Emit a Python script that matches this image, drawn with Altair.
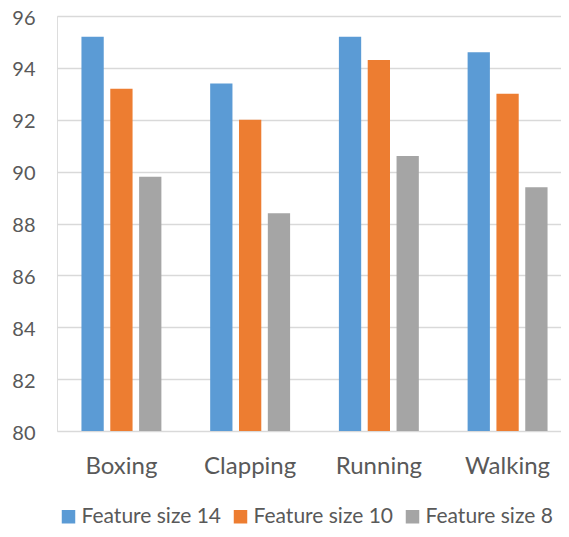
import altair as alt
import pandas as pd

categories = ["Boxing", "Clapping", "Running", "Walking"]
series_names = ["Feature size 14", "Feature size 10", "Feature size 8"]
fs14 = [95.2, 93.4, 95.2, 94.6]
fs10 = [93.2, 92.0, 94.3, 93.0]
fs8 = [89.8, 88.4, 90.6, 89.4]
y_ticks = [80, 82, 84, 86, 88, 90, 92, 94, 96]
colors = ["#5B9BD5", "#ED7D31", "#A5A5A5"]

rows = []
for name, vals in zip(series_names, [fs14, fs10, fs8]):
    for c, v in zip(categories, vals):
        rows.append({"Activity": c, "Series": name, "Value": v})
df = pd.DataFrame(rows)

FONT = "Lato"
TXT = "#595959"

chart = alt.Chart(df).mark_bar().encode(
    x=alt.X("Activity:N", sort=categories, title=None,
            scale=alt.Scale(range=[0, 515], paddingInner=0.379, paddingOuter=0.19),
            axis=alt.Axis(labelAngle=0, labelFont=FONT, labelFontSize=24, labelColor=TXT,
                          ticks=False, tickSize=0, domain=False, grid=False,
                          labelBaseline="alphabetic", labelPadding=42)),
    xOffset=alt.XOffset("Series:N", sort=series_names,
                        scale=alt.Scale(paddingInner=0.227, paddingOuter=0)),
    y=alt.Y("Value:Q", title=None,
            scale=alt.Scale(domain=[80, 96], zero=False, nice=False),
            axis=alt.Axis(values=y_ticks, labelFont=FONT, labelFontSize=20, labelColor=TXT,
                          ticks=False, tickSize=0, domain=False, grid=True,
                          gridColor="#D9D9D9", gridWidth=1.5,
                          labelBaseline="alphabetic", labelOffset=8, labelPadding=22)),
    y2=alt.datum(80),
    color=alt.Color("Series:N", sort=series_names,
                    scale=alt.Scale(domain=series_names, range=colors),
                    legend=alt.Legend(title=None, orient="none", direction="horizontal",
                                      columns=3, legendX=1, legendY=490, padding=0,
                                      symbolType="square", symbolSize=182, symbolStrokeWidth=0,
                                      labelFont=FONT, labelFontSize=21, labelColor=TXT,
                                      labelOffset=2.5, columnPadding=8)),
).properties(
    width=504, height=415,
    autosize=alt.AutoSizeParams(type="none"),
    padding={"left": 49, "top": 8, "right": 0, "bottom": 98},
).configure_view(stroke=None).configure(background="white")

chart.save("out.html", embed_options={"renderer": "svg", "actions": False})
